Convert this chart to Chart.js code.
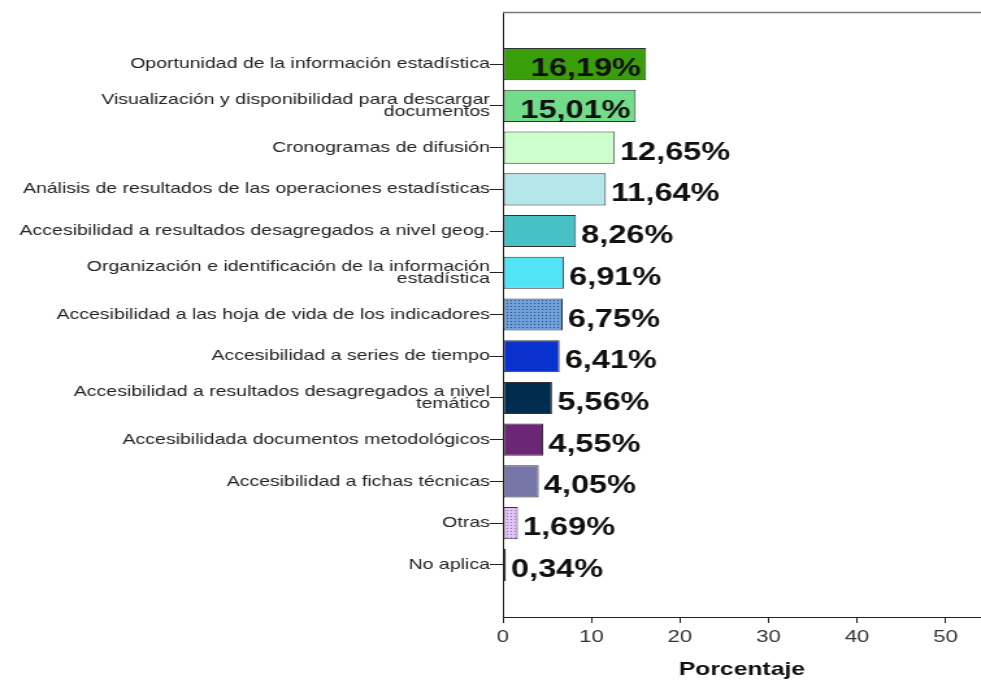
<!DOCTYPE html>
<html>
<head>
<meta charset="utf-8">
<script src="https://cdn.jsdelivr.net/npm/chart.js@4.4.0/dist/chart.umd.min.js"></script>
<style>
  html, body { margin: 0; padding: 0; background: #fff; overflow: hidden; }
  /* the source picture is stretched sideways, so the canvas is too */
  #wrap { width: 755px; height: 681px; transform: scaleX(1.2993); transform-origin: 0 0; }
</style>
</head>
<body>
<div id="wrap"><canvas id="chart" width="755" height="681"></canvas></div>
<script>
var categories = [
    "Oportunidad de la información estadística",
    ["Visualización y disponibilidad para descargar", "documentos"],
    "Cronogramas de difusión",
    "Análisis de resultados de las operaciones estadísticas",
    "Accesibilidad a resultados desagregados a nivel geog.",
    ["Organización e identificación de la información", "estadística"],
    "Accesibilidad a las hoja de vida de los indicadores",
    "Accesibilidad a series de tiempo",
    ["Accesibilidad a resultados desagregados a nivel", "temático"],
    "Accesibilidada documentos metodológicos",
    "Accesibilidad a fichas técnicas",
    "Otras",
    "No aplica"
];
var values = [16.19, 15.01, 12.65, 11.64, 8.26, 6.91, 6.75, 6.41, 5.56, 4.55, 4.05, 1.69, 0.34];
var xTicks = [0, 10, 20, 30, 40, 50];

var FONT = '"Liberation Sans", Arial, sans-serif';

// small dotted fill like the SPSS pattern bars
function dotPattern(base, dot) {
    var c = document.createElement('canvas');
    c.width = 3;
    c.height = 3;
    var g = c.getContext('2d');
    g.fillStyle = base;
    g.fillRect(0, 0, 3, 3);
    g.fillStyle = dot;
    g.fillRect(0, 0, 1, 1);
    return g.createPattern(c, 'repeat');
}

var barColors = [
    '#3a9d0a', '#72dc8a', '#ccffcc', '#b5e6ea', '#48c1c6', '#50e4f6',
    dotPattern('#6e9fd9', '#2e4f80'),
    '#0a32cf', '#002c4e', '#6c2676', '#7677a8',
    dotPattern('#e0c4f5', '#9a70b8'),
    '#8a2355'
];

var valueLabels = {
    id: 'valueLabels',
    afterDatasetsDraw: function(chart) {
        var ctx = chart.ctx;
        var area = chart.chartArea;
        var meta = chart.getDatasetMeta(0);
        ctx.save();
        // grey frame line along the top of the plot
        ctx.strokeStyle = '#777';
        ctx.lineWidth = 1.5;
        ctx.beginPath();
        ctx.moveTo(area.left, area.top + 0.5);
        ctx.lineTo(area.right, area.top + 0.5);
        ctx.stroke();

        ctx.font = 'bold 25px ' + FONT;
        ctx.fillStyle = '#111';
        ctx.textBaseline = 'alphabetic';
        meta.data.forEach(function(bar, i) {
            var txt = values[i].toFixed(2).replace('.', ',') + '%';
            if (values[i] >= 15) {
                ctx.textAlign = 'right';
                ctx.fillText(txt, bar.x - 4, bar.y + 12);
            } else {
                ctx.textAlign = 'left';
                ctx.fillText(txt, bar.x + 4, bar.y + 12);
            }
        });
        ctx.restore();
    }
};

var ctx = document.getElementById('chart').getContext('2d');
var chart = new Chart(ctx, {
    type: 'bar',
    data: {
        datasets: [{
            data: values.map(function(v, i) { return { x: v, y: i }; }),
            backgroundColor: barColors,
            borderColor: '#333',
            borderWidth: 1,
            borderSkipped: false,
            barPercentage: 0.77,
            categoryPercentage: 1
        }]
    },
    options: {
        indexAxis: 'y',
        responsive: false,
        animation: false,
        layout: { padding: { top: 12, right: 0, bottom: 0, left: 0 } },
        plugins: {
            legend: { display: false },
            tooltip: { enabled: false }
        },
        scales: {
            y: {
                type: 'linear',
                reverse: true,
                offset: false,
                min: -1.25,
                max: 13.25,
                afterBuildTicks: function(s) {
                    s.ticks = categories.map(function(c, i) { return { value: i }; });
                },
                afterFit: function(s) { s.width = 387; },
                ticks: {
                    autoSkip: false,
                    padding: 0,
                    color: '#222',
                    font: { family: FONT, size: 15, lineHeight: 0.8 },
                    callback: function(v) { return categories[v]; }
                },
                grid: { offset: false, drawOnChartArea: false, tickLength: 10, color: '#222' },
                border: { color: '#222' }
            },
            x: {
                type: 'linear',
                min: 0,
                max: 54,
                afterBuildTicks: function(s) {
                    s.ticks = xTicks.map(function(v) { return { value: v }; });
                },
                afterFit: function(s) { s.height = 64; },
                ticks: {
                    padding: 4,
                    color: '#333',
                    font: { family: FONT, size: 17 }
                },
                grid: { drawOnChartArea: false, tickLength: 6, color: '#222' },
                border: { color: '#222' },
                title: {
                    display: true,
                    text: 'Porcentaje',
                    color: '#111',
                    font: { family: FONT, size: 19, weight: 'bold' },
                    padding: { top: 0, bottom: 0 }
                }
            }
        }
    },
    plugins: [valueLabels]
});
</script>
</body>
</html>
